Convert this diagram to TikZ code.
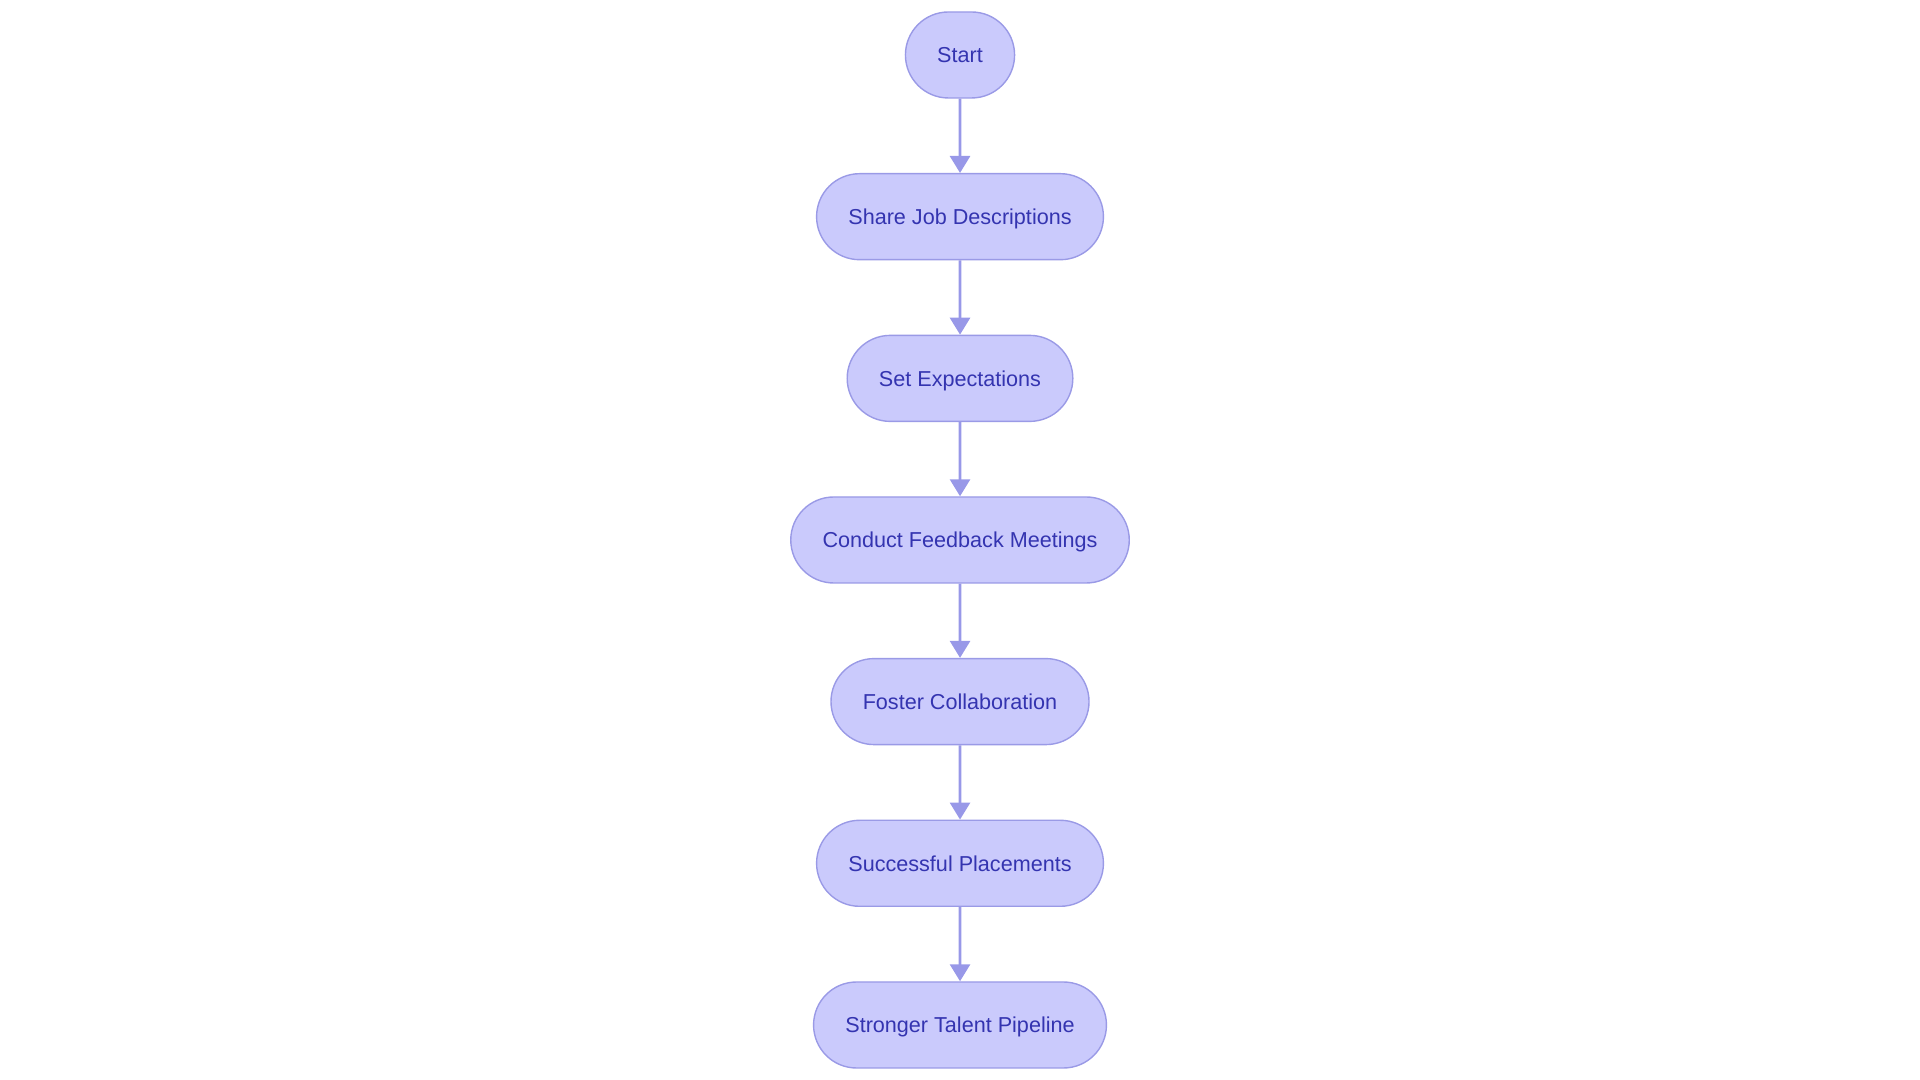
\documentclass[tikz,border=0pt]{standalone}
\usepackage{fontspec}
\setmainfont{Liberation Sans}
\usepackage{tikz}
\usetikzlibrary{shapes.misc, arrows.meta}

\definecolor{boxfill}{HTML}{CACAFC}
\definecolor{boxline}{HTML}{9A9AE6}
\definecolor{boxtext}{HTML}{3434B0}
\definecolor{linkcol}{HTML}{9898E8}

\begin{document}
\begin{tikzpicture}
  [x=1pt,y=1pt,
   stage/.style={rounded rectangle, draw=boxline, line width=.7pt, fill=boxfill,
     text=boxtext, font=\fontsize{10.8pt}{13pt}\selectfont,
     text height=10pt, text depth=2.2pt,
     minimum height=43pt, inner xsep=15pt},
   flow/.style={draw=linkcol, line width=1.4pt,
     -{Triangle[length=8.5pt,width=10pt]}}]
  \useasboundingbox (0,0) rectangle (960,540);

  \node[stage] (n1) at (480,512.5) {Start};
  \node[stage] (n2) at (480,431.65) {Share Job Descriptions};
  \node[stage] (n3) at (480,350.8) {Set Expectations};
  \node[stage] (n4) at (480,270) {Conduct Feedback Meetings};
  \node[stage] (n5) at (480,189.2) {Foster Collaboration};
  \node[stage] (n6) at (480,108.35) {Successful Placements};
  \node[stage] (n7) at (480,27.5) {Stronger Talent Pipeline};

  \foreach \from/\to in {n1/n2,n2/n3,n3/n4,n4/n5,n5/n6,n6/n7}
    \draw[flow] (\from) -- (\to);

\end{tikzpicture}
\end{document}
